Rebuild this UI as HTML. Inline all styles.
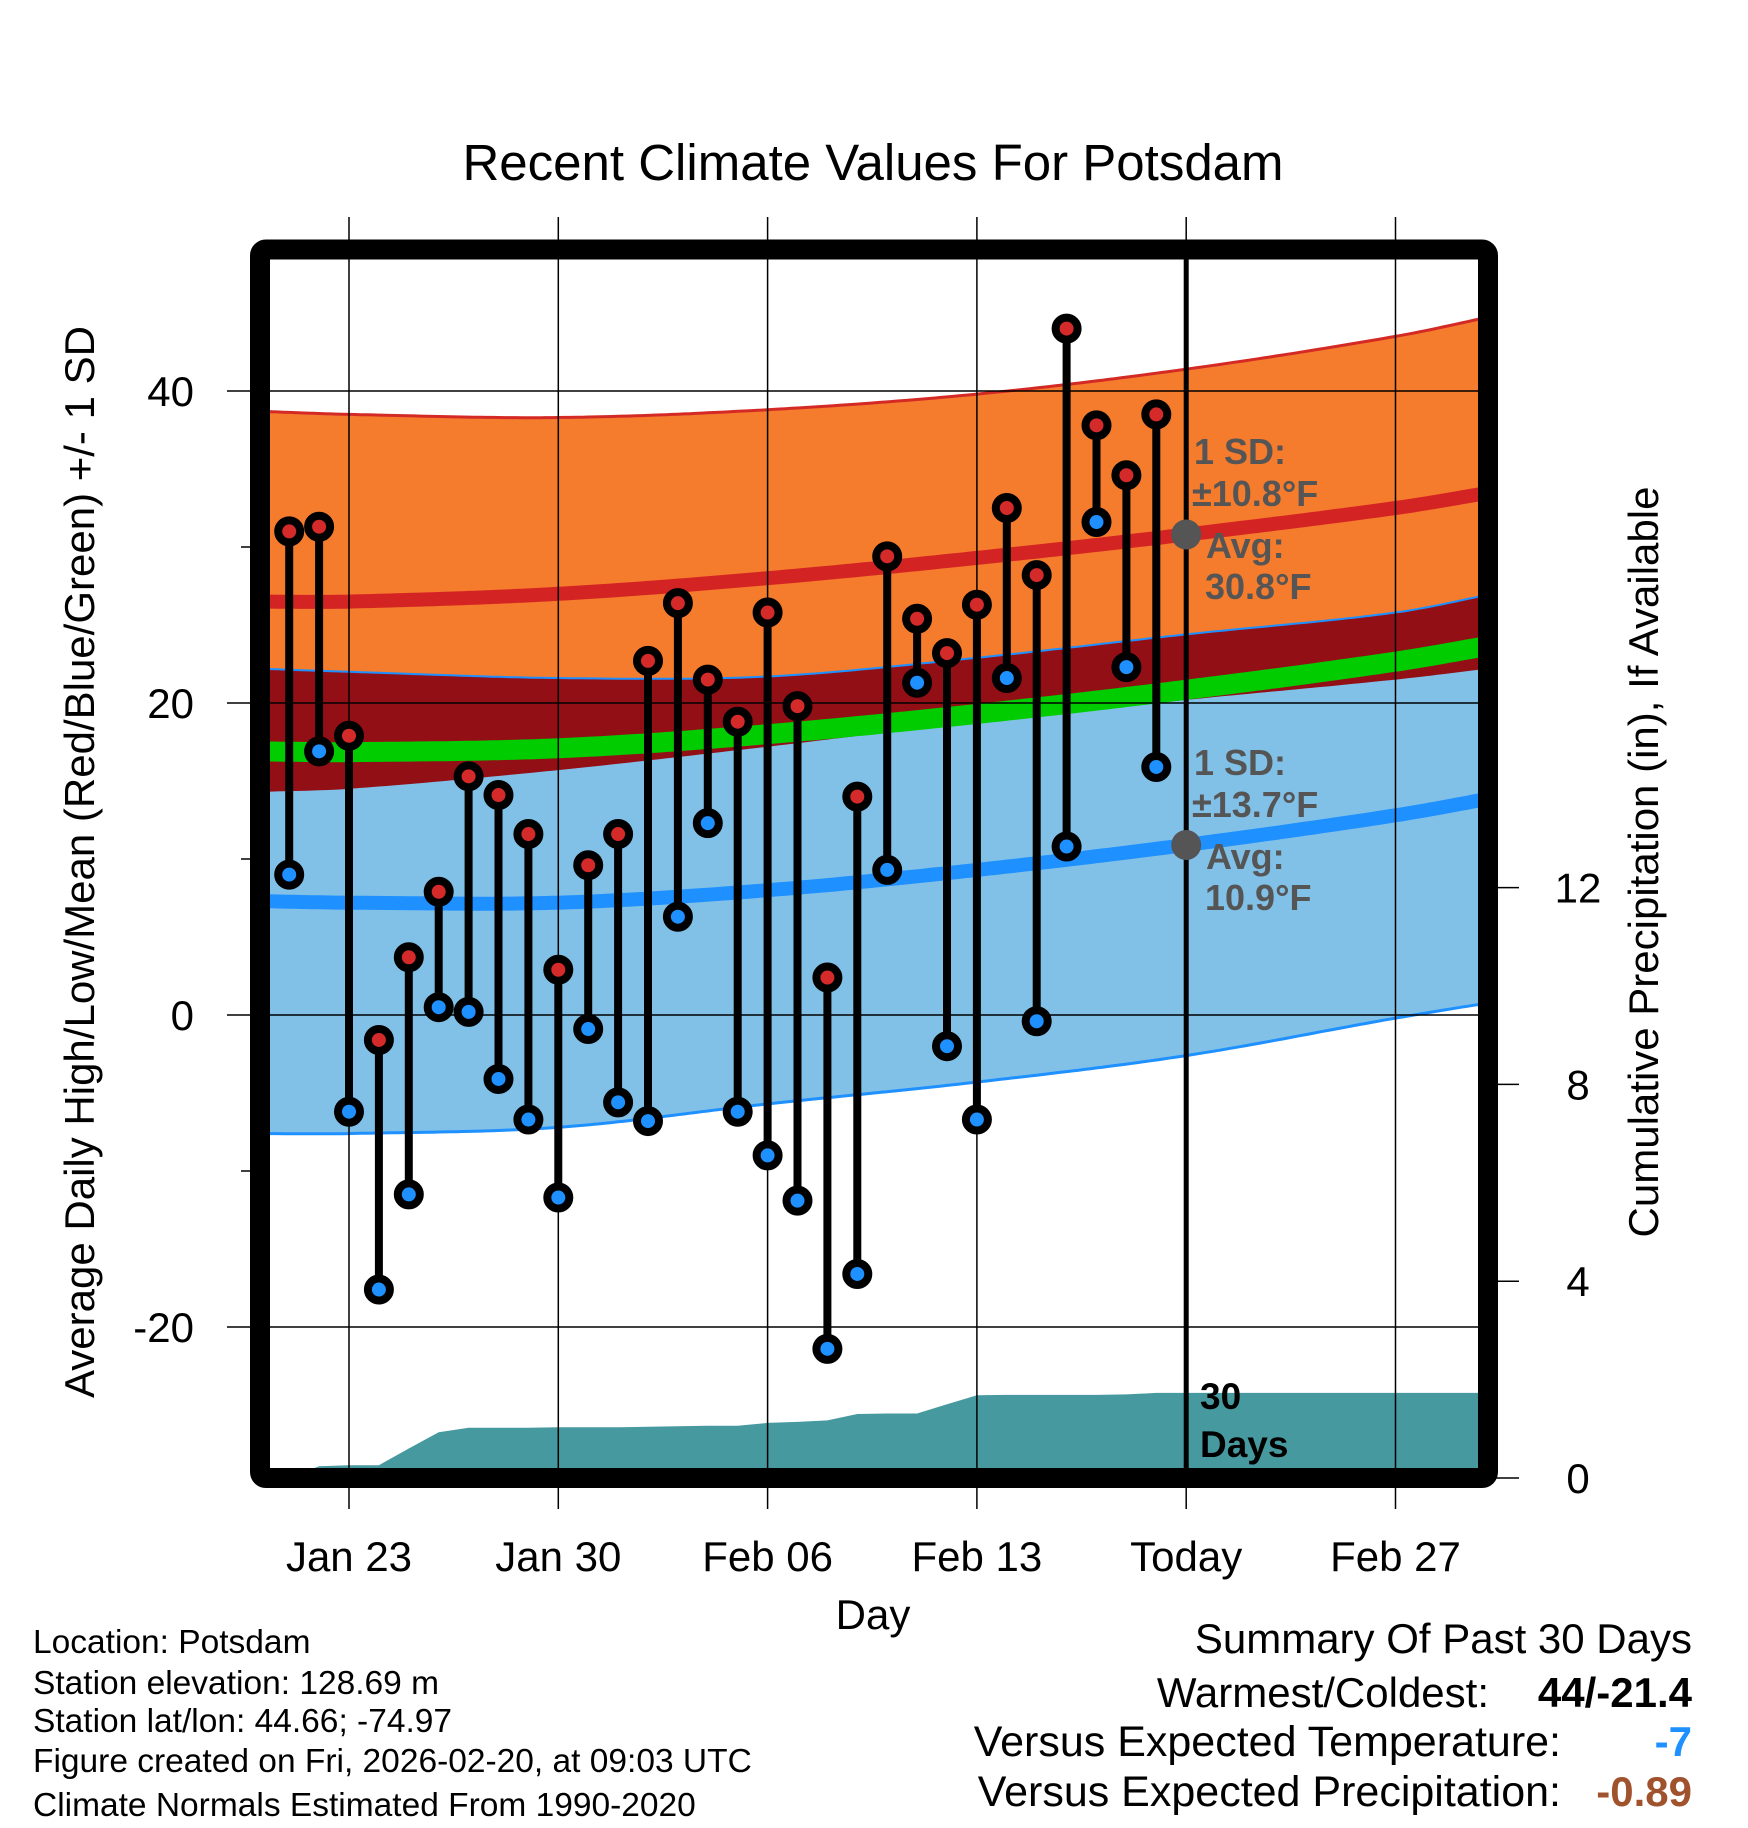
<!DOCTYPE html>
<html><head><meta charset="utf-8"><style>
html,body{margin:0;padding:0;background:#fff;}
svg{display:block;font-family:"Liberation Sans",Arial,sans-serif;}
</style></head><body>
<svg id="chart" width="1748" height="1828" viewBox="0 0 1748 1828" xmlns="http://www.w3.org/2000/svg">
<defs><clipPath id="plotclip"><rect x="270" y="259" width="1208" height="1209"/></clipPath></defs>
<g id="bands" clip-path="url(#plotclip)"></g>
<g id="grid"></g>
<g id="marks"></g>
<g id="frame"></g>
<g id="labels"></g>
</svg>
<script>
const days = [-2,-1,0,1,2,3,4,5,6,7,8,9,10,11,12,13,14,15,16,17,18,19,20,21,22,23,24,25,26,27];
const highs = [31,31.3,17.9,-1.6,3.7,7.9,15.3,14.1,11.6,2.9,9.6,11.6,22.7,26.4,21.5,18.8,25.8,19.8,2.4,14.0,29.4,25.4,23.2,26.3,32.5,28.2,44,37.8,34.6,38.5];
const lows = [9.0,16.9,-6.2,-17.6,-11.5,0.5,0.2,-4.1,-6.7,-11.7,-0.9,-5.6,-6.8,6.3,12.3,-6.2,-9.0,-11.9,-21.4,-16.6,9.3,21.3,-2.0,-6.7,21.6,-0.4,10.8,31.6,22.3,15.9];
const precip = [0,0.24,0.26,0.26,0.6,0.93,1.02,1.02,1.02,1.03,1.03,1.03,1.04,1.05,1.06,1.06,1.12,1.14,1.17,1.3,1.31,1.31,1.5,1.68,1.69,1.69,1.69,1.69,1.7,1.73];
const normDays = [-3,0,7,14,21,28,35,38.5];
const hiMean = [26.5,26.5,27.0,28.0,29.3,30.8,32.5,33.6];
const hiSD = [12.2,12.0,11.3,10.8,10.5,10.6,11.0,11.3];
const loMean = [7.3,7.2,7.2,8.0,9.3,10.9,12.8,14.0];
const loSD = [14.9,14.8,14.4,13.7,13.6,13.5,13.0,13.1];
const xTickLabels = ["Jan 23","Jan 30","Feb 06","Feb 13","Today","Feb 27"];
const xTickDays = [0,7,14,21,28,35];
const yTicks = [40,20,0,-20];
const yMinor = [30,10,-10];
const pTicks = [0,4,8,12];

const NS="http://www.w3.org/2000/svg";
const X = d => 349 + d*29.9;
const Y = v => 1015 - v*15.6;
const P = v => 1478 - v*49.2;
function mk(parent, tag, attrs){const e=document.createElementNS(NS,tag);for(const k in attrs)e.setAttribute(k,attrs[k]);parent.appendChild(e);return e;}
function interp(arr,d){
  const n=normDays.length;
  let i=0; while(i<n-2 && d>normDays[i+1]) i++;
  const x0=normDays[i],x1=normDays[i+1];
  const t=Math.max(-0.2,Math.min(1.2,(d-x0)/(x1-x0)));
  const p0=arr[Math.max(0,i-1)],p1=arr[i],p2=arr[i+1],p3=arr[Math.min(n-1,i+2)];
  const h=x1-x0;
  const m1=(p2-arr[Math.max(0,i-1)])/(x1-normDays[Math.max(0,i-1)]||h)*h;
  const m2=(p3-p1)/(normDays[Math.min(n-1,i+2)]-x0)*h;
  const t2=t*t,t3=t2*t;
  return (2*t3-3*t2+1)*p1+(t3-2*t2+t)*m1+(-2*t3+3*t2)*p2+(t3-t2)*m2;
}
const bands=document.getElementById('bands');
const grid=document.getElementById('grid');
const marks=document.getElementById('marks');
const frame=document.getElementById('frame');
const labels=document.getElementById('labels');
const samp=[];for(let d=-3.2;d<=38.6;d+=0.2)samp.push(d);
function line(f){return samp.map(d=>X(d).toFixed(1)+','+Y(f(d)).toFixed(1)).join(' ');}
function poly(fTop,fBot){return samp.map(d=>X(d).toFixed(1)+','+Y(fTop(d)).toFixed(1)).join(' ')+' '+samp.slice().reverse().map(d=>X(d).toFixed(1)+','+Y(fBot(d)).toFixed(1)).join(' ');}
const hT=d=>interp(hiMean,d)+interp(hiSD,d), hB=d=>interp(hiMean,d)-interp(hiSD,d);
const lT=d=>interp(loMean,d)+interp(loSD,d), lB=d=>interp(loMean,d)-interp(loSD,d);
let e;
e=mk(bands,'polygon',{points:poly(hT,hB),fill:'#f57b2d'});

e=mk(bands,'polygon',{points:poly(lT,lB),fill:'#82c1e7'});

e=mk(bands,'polygon',{points:poly(lT,hB),fill:'#930f16'});

mk(bands,'polyline',{points:line(hT),fill:'none',stroke:'#d42a25','stroke-width':3});
mk(bands,'polyline',{points:line(lT),fill:'none',stroke:'#1e90ff','stroke-width':2});
mk(bands,'polyline',{points:line(lB),fill:'none',stroke:'#1e90ff','stroke-width':3});
e=mk(bands,'polyline',{points:line(d=>(interp(hiMean,d)+interp(loMean,d))/2),fill:'none',stroke:'#00cc00','stroke-width':20});

e=mk(bands,'polyline',{points:line(d=>interp(hiMean,d)),fill:'none',stroke:'#d42323','stroke-width':14});

e=mk(bands,'polyline',{points:line(d=>interp(loMean,d)),fill:'none',stroke:'#1e90ff','stroke-width':14});

let pp=X(-3)+','+P(0)+' ';
days.forEach((d,i)=>{pp+=X(d)+','+P(precip[i]).toFixed(1)+' ';});
pp+=X(38.6)+','+P(precip[precip.length-1]).toFixed(1)+' '+X(38.6)+','+P(0);
e=mk(bands,'polygon',{points:pp,fill:'#4799a0'});


yTicks.forEach(v=>{e=mk(grid,'line',{x1:227,x2:1478,y1:Y(v),y2:Y(v),stroke:'#000','stroke-width':1.5});

e=mk(labels,'text',{x:194,y:Y(v)+15,'font-size':42,'text-anchor':'end',fill:'#000'});e.textContent=v;
});
yMinor.forEach(v=>{mk(grid,'line',{x1:241,x2:252,y1:Y(v),y2:Y(v),stroke:'#000','stroke-width':1.5});});
xTickDays.forEach((d,i)=>{e=mk(grid,'line',{x1:X(d),x2:X(d),y1:217,y2:1509,stroke:'#000','stroke-width':1.5});

e=mk(labels,'text',{x:X(d),y:1571,'font-size':42,'text-anchor':'middle',fill:'#000'});e.textContent=xTickLabels[i];
});
pTicks.forEach(v=>{mk(grid,'line',{x1:1488,x2:1519,y1:P(v),y2:P(v),stroke:'#000','stroke-width':1.5});
e=mk(labels,'text',{x:1578,y:P(v)+15,'font-size':42,'text-anchor':'middle',fill:'#000'});e.textContent=v;
});
e=mk(grid,'line',{x1:X(28),x2:X(28),y1:259,y2:1468,stroke:'#000','stroke-width':5});


days.forEach((d,i)=>{
  e=mk(marks,'line',{x1:X(d),x2:X(d),y1:Y(highs[i]),y2:Y(lows[i]),stroke:'#000','stroke-width':8});
  
  e=mk(marks,'circle',{cx:X(d),cy:Y(highs[i]),r:11,fill:'#d42a2a',stroke:'#000','stroke-width':8});
  
  e=mk(marks,'circle',{cx:X(d),cy:Y(lows[i]),r:11,fill:'#1e90ff',stroke:'#000','stroke-width':8});
  
});
e=mk(marks,'circle',{cx:X(28),cy:Y(30.8),r:15,fill:'#555'});

e=mk(marks,'circle',{cx:X(28),cy:Y(10.9),r:15,fill:'#555'});


e=mk(frame,'rect',{x:260,y:249.5,width:1228,height:1228.5,fill:'none',stroke:'#000','stroke-width':20,rx:6});

</script>
<script>
(function(){
const L=document.getElementById('labels');const NS="http://www.w3.org/2000/svg";
function t(x,y,s,txt,opt,name){const e=document.createElementNS(NS,'text');e.setAttribute('x',x);e.setAttribute('y',y);e.setAttribute('font-size',s);for(const k in opt)e.setAttribute(k,opt[k]);e.textContent=txt;


L.appendChild(e);return e;}
t(873,180,51,'Recent Climate Values For Potsdam',{'text-anchor':'middle'},'chart-title');
t(873,1629,42,'Day',{'text-anchor':'middle'},'x-axis-title');
t(0,0,42,'Average Daily High/Low/Mean (Red/Blue/Green) +/- 1 SD',{'text-anchor':'middle',transform:'translate(94,862) rotate(-90)'},'y-axis-title');
t(0,0,42,'Cumulative Precipitation (in), If Available',{'text-anchor':'middle',transform:'translate(1658,862) rotate(-90)'},'precip-axis-title');
const g={fill:'#555','font-weight':'bold'};
t(1194,464,36,'1 SD:',g,'high-sd-label');
t(1192,506,36,'±10.8°F',g,'high-sd-value');
t(1206,558,36,'Avg:',g,'high-avg-label');
t(1205,599,36,'30.8°F',g,'high-avg-value');
t(1194,775,36,'1 SD:',g,'low-sd-label');
t(1192,817,36,'±13.7°F',g,'low-sd-value');
t(1206,869,36,'Avg:',g,'low-avg-label');
t(1205,910,36,'10.9°F',g,'low-avg-value');
t(1200,1409,37,'30',{'font-weight':'bold'},'days-label');
t(1200,1457,37,'Days',{'font-weight':'bold'},'days-label-2');
const f=[['Location: Potsdam',1653],['Station elevation: 128.69 m',1694],['Station lat/lon: 44.66; -74.97',1732],['Figure created on Fri, 2026-02-20, at 09:03 UTC',1772],['Climate Normals Estimated From 1990-2020',1816]];
f.forEach(a=>t(33,a[1],33.5,a[0],{},'footer-info'));
t(1692,1653,42,'Summary Of Past 30 Days',{'text-anchor':'end'},'summary-title');
t(1489,1707,42,'Warmest/Coldest:',{'text-anchor':'end'},'warmest-label');
t(1692,1707,42,'44/-21.4',{'text-anchor':'end','font-weight':'bold'},'warmest-value');
t(1561,1756,43,'Versus Expected Temperature:',{'text-anchor':'end'},'temp-anomaly-label');
t(1692,1756,42,'-7',{'text-anchor':'end','font-weight':'bold',fill:'#1e90ff'},'temp-anomaly-value');
t(1561,1806,43,'Versus Expected Precipitation:',{'text-anchor':'end'},'precip-anomaly-label');
t(1692,1806,42,'-0.89',{'text-anchor':'end','font-weight':'bold',fill:'#a0522d'},'precip-anomaly-value');
})();
</script>
</body></html>
